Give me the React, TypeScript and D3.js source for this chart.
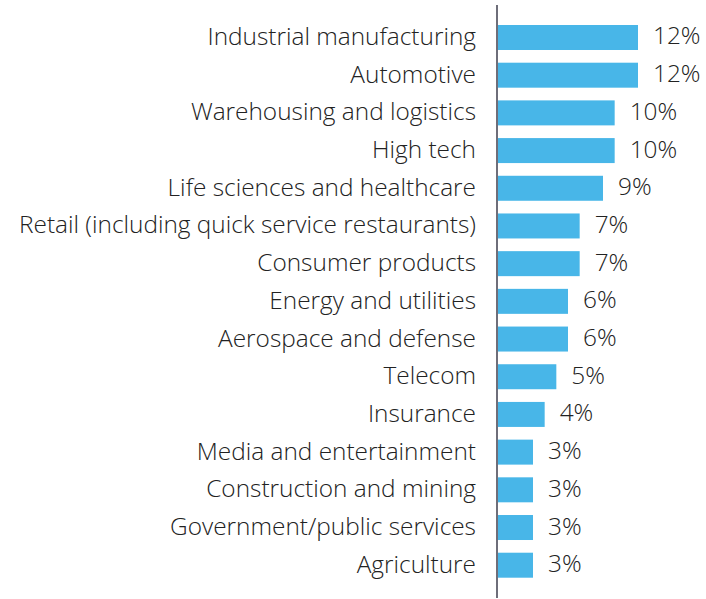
import React from "react";
import * as d3 from "d3";

const categories = [
  "Industrial manufacturing",
  "Automotive",
  "Warehousing and logistics",
  "High tech",
  "Life sciences and healthcare",
  "Retail (including quick service restaurants)",
  "Consumer products",
  "Energy and utilities",
  "Aerospace and defense",
  "Telecom",
  "Insurance",
  "Media and entertainment",
  "Construction and mining",
  "Government/public services",
  "Agriculture",
];
const values = [12, 12, 10, 10, 9, 7, 7, 6, 6, 5, 4, 3, 3, 3, 3];
const valueLabels = values.map((v) => `${v}%`);

const W = 706;
const H = 599;
const axisX = 497;
const FONT = "'Open Sans', sans-serif";
const FS = 24.4;

export default function App() {
  const y = d3
    .scaleBand<string>()
    .domain(categories)
    .range([25 - 37.69 * 0.17, 577.7 + 37.69 * 0.17])
    .paddingInner(0.337)
    .paddingOuter(0.17);
  const x = d3.scaleLinear().domain([0, 12]).range([axisX + 1, axisX + 141]);

  return (
    <svg
      width={W}
      height={H}
      style={{ position: "absolute", left: 0, top: 0, background: "#fff" }}
    >
      {categories.map((c, i) => {
        const by = y(c)!;
        const bh = y.bandwidth();
        const cy = by + bh / 2;
        return (
          <g key={c}>
            <rect x={x(0)} y={by} width={x(values[i]) - x(0)} height={bh} fill="#48B6E8" />
            <text
              x={axisX - 21}
              y={cy + 7.5}
              textAnchor="end"
              fontFamily={FONT}
              fontWeight={300}
              fontSize={FS}
              fill="#222"
            >
              {c}
            </text>
            <text
              x={x(values[i]) + 15}
              y={cy + 7}
              fontFamily={FONT}
              fontWeight={300}
              fontSize={FS}
              fill="#222"
            >
              {valueLabels[i]}
            </text>
          </g>
        );
      })}
      <line x1={axisX} x2={axisX} y1={5} y2={598} stroke="#4a4a58" strokeWidth={1.6} />
    </svg>
  );
}
